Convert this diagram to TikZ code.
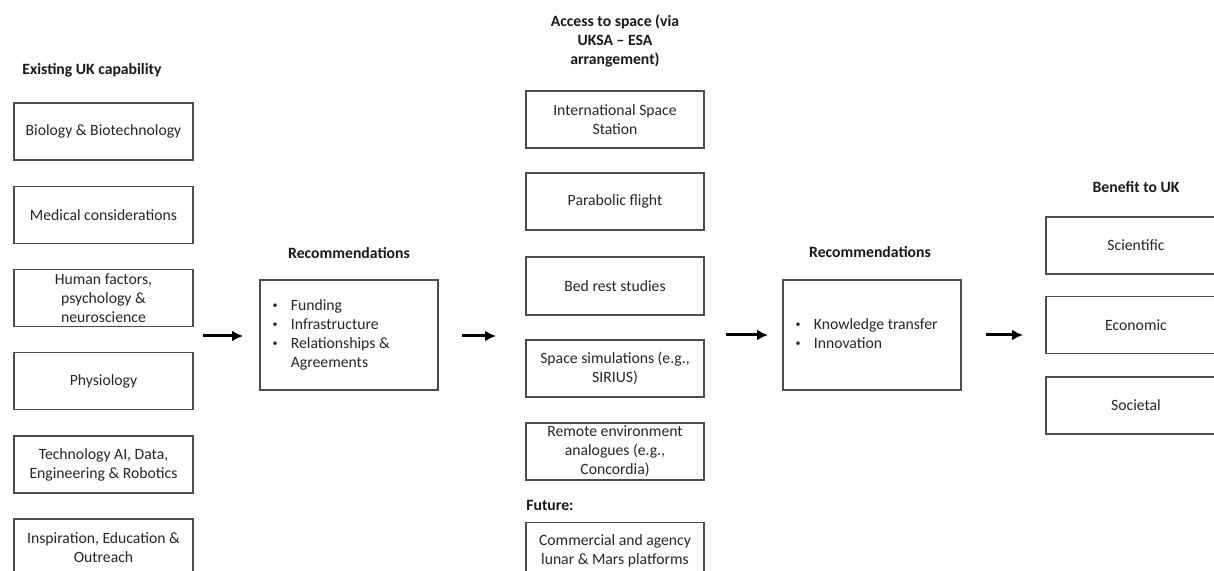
\documentclass[tikz,border=0pt]{standalone}
\usepackage{fontspec}
\setmainfont{Carlito}
\usetikzlibrary{arrows.meta}
\newcommand\fsz{\fontsize{7.85}{9.5}\selectfont}
\newcommand\smbul{\raisebox{0.9pt}{\fontsize{5}{5}\selectfont\textbullet}}
\begin{document}
\begin{tikzpicture}[x=0.5pt,y=-0.5pt,
  box/.style={draw=black!70, line width=0.7pt, minimum width=89.5pt, minimum height=28.5pt, align=center, inner sep=0pt, font=\fsz, text=black!85},
  recbox/.style={draw=black!70, line width=0.7pt, minimum width=89pt, minimum height=55pt, inner sep=0pt},
  bul/.style={anchor=west, align=left, inner sep=0pt, font=\fsz, text=black!85},
  ttl/.style={font=\fsz\bfseries, align=center, text=black!90, inner sep=0pt},
  flow/.style={line width=1.5pt, -{Latex[length=5.5pt,width=5.5pt]}}]
\useasboundingbox (0,0) rectangle (1214,571);
\clip (0,0) rectangle (1214,571);
\fill[white] (0,0) rectangle (1214,571);

% Left column
\node[ttl] (t1) at (92,70) {Existing UK capability};
\node[box] (l1) at (103.5,131.5) {Biology \& Biotechnology};
\node[box] (l2) at (103.5,215) {Medical considerations};
\node[box] (l3) at (103.5,298) {Human factors,\\psychology \&\\neuroscience};
\node[box] (l4) at (103.5,381) {Physiology};
\node[box] (l5) at (103.5,464.5) {Technology AI, Data,\\Engineering \& Robotics};
\node[box] (l6) at (103.5,547.5) {Inspiration, Education \&\\Outreach};

% Recommendations 1
\node[ttl] (t2) at (349,253) {Recommendations};
\node[recbox] (r1) at (349,335) {};
\node[bul] (r1t) at ([xshift=6.5pt]r1.west) {\begin{tabular}{@{}l@{\hspace{6.6pt}}l@{}}
\smbul & Funding\\
\smbul & Infrastructure\\
\smbul & Relationships \&\\
 & Agreements
\end{tabular}};

% Middle column
\node[ttl] (t3) at (615,41) {Access to space (via\\UKSA -- ESA\\arrangement)};
\node[box, minimum width=89pt] (m1) at (615,119.5) {International Space\\Station};
\node[box, minimum width=89pt] (m2) at (615,201.5) {Parabolic flight};
\node[box, minimum width=89pt, minimum height=29pt] (m3) at (615,286) {Bed rest studies};
\node[box, minimum width=89pt] (m4) at (615,368.5) {Space simulations (e.g.,\\SIRIUS)};
\node[box, minimum width=89pt] (m5) at (615,451.5) {Remote environment\\analogues (e.g.,\\Concordia)};
\node[ttl, anchor=west] (fut) at (526,505) {Future:};
\node[box, minimum width=89pt] (m6) at (615,551) {Commercial and agency\\lunar \& Mars platforms};

% Recommendations 2
\node[ttl] (t4) at (870,252) {Recommendations};
\node[recbox] (r2) at (872,335) {};
\node[bul] (r2t) at ([xshift=6.5pt]r2.west) {\begin{tabular}{@{}l@{\hspace{6.6pt}}l@{}}
\smbul & Knowledge transfer\\
\smbul & Innovation
\end{tabular}};

% Right column
\node[ttl] (t5) at (1136,187) {Benefit to UK};
\node[box, minimum width=90pt] (b1) at (1136,245.5) {Scientific};
\node[box, minimum width=90pt] (b2) at (1136,325) {Economic};
\node[box, minimum width=90pt] (b3) at (1136,405.5) {Societal};

% Arrows
\coordinate (a1s) at (203,336); \coordinate (a1e) at (243,336);
\coordinate (a2s) at (462,336); \coordinate (a2e) at (496,336);
\coordinate (a3s) at (726,335); \coordinate (a3e) at (768,335);
\coordinate (a4s) at (986,335); \coordinate (a4e) at (1023,335);
\draw[flow] (a1s) -- (a1e);
\draw[flow] (a2s) -- (a2e);
\draw[flow] (a3s) -- (a3e);
\draw[flow] (a4s) -- (a4e);
\end{tikzpicture}
\end{document}
